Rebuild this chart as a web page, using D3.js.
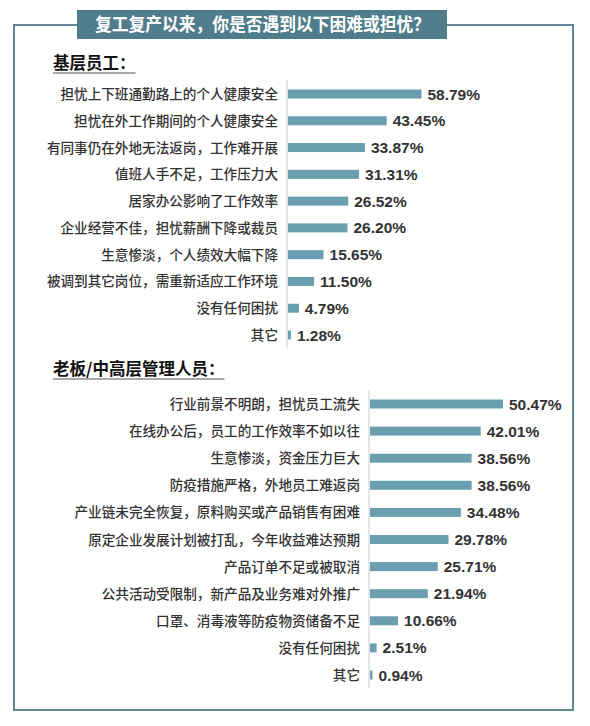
<!DOCTYPE html>
<html><head><meta charset="utf-8">
<script src="https://cdn.jsdelivr.net/npm/d3@7"></script>
<style>body{margin:0;background:#fff}</style>
</head><body>
<svg id="chart" width="590" height="726"></svg>
<script>
// 基层员工
var staffLabels = ['担忧上下班通勤路上的个人健康安全','担忧在外工作期间的个人健康安全','有同事仍在外地无法返岗，工作难开展','值班人手不足，工作压力大','居家办公影响了工作效率','企业经营不佳，担忧薪酬下降或裁员','生意惨淡，个人绩效大幅下降','被调到其它岗位，需重新适应工作环境','没有任何困扰','其它']
var staffValues = [58.79, 43.45, 33.87, 31.31, 26.52, 26.20, 15.65, 11.50, 4.79, 1.28]
// 老板/中高层管理人员
var bossLabels = ['行业前景不明朗，担忧员工流失','在线办公后，员工的工作效率不如以往','生意惨淡，资金压力巨大','防疫措施严格，外地员工难返岗','产业链未完全恢复，原料购买或产品销售有困难','原定企业发展计划被打乱，今年收益难达预期','产品订单不足或被取消','公共活动受限制，新产品及业务难对外推广','口罩、消毒液等防疫物资储备不足','没有任何困扰','其它']
var bossValues = [50.47, 42.01, 38.56, 38.56, 34.48, 29.78, 25.71, 21.94, 10.66, 2.51, 0.94]

var svg = d3.select('#chart')
var font = '"Noto Sans CJK SC", sans-serif'
var barColor = '#6a9fb0'

svg.append('rect').attr('x',14).attr('y',25).attr('width',559).attr('height',685)
  .attr('fill','none').attr('stroke','#5d8796').attr('stroke-width',2)
svg.append('rect').attr('x',77).attr('y',10).attr('width',370).attr('height',29).attr('fill','#4f7d8b')
svg.append('text').attr('x',95).attr('y',31)
  .attr('textLength',335).attr('lengthAdjust','spacingAndGlyphs')
  .attr('font-family',font).attr('font-weight','bold').attr('font-size',18).attr('fill','#fff')
  .text('复工复产以来，你是否遇到以下困难或担忧？')

function section(title, ty, labels, values, axisX, yFirst, yLast, pxPer){
  var t = svg.append('text').attr('x',53).attr('y',ty).attr('font-family',font)
    .attr('font-weight','bold').attr('font-size',16.5).attr('fill','#111').text(title)
  var w = t.node().getComputedTextLength()
  svg.append('line').attr('x1',53).attr('x2',53+w).attr('y1',ty+4).attr('y2',ty+4)
    .attr('stroke','#555').attr('stroke-width',1.2)
  var y = d3.scalePoint().domain(labels).range([yFirst,yLast])
  var x = d3.scaleLinear().domain([0,1]).range([axisX, axisX+pxPer])
  var bh = 9
  svg.append('line').attr('x1',axisX).attr('x2',axisX).attr('y1',yFirst-14).attr('y2',yLast+13).attr('stroke','#ccc')
  var g = svg.append('g')
  g.selectAll('rect').data(values).enter().append('rect')
    .attr('x',axisX+1).attr('y',function(d,i){return y(labels[i])-bh/2})
    .attr('width',function(d){return x(d)-axisX}).attr('height',bh)
    .attr('fill',barColor)
  g.selectAll('.lab').data(labels).enter().append('text')
    .attr('x',axisX-9).attr('y',function(d){return y(d)+5})
    .attr('text-anchor','end').attr('font-family',font).attr('font-size',13.6)
    .attr('font-weight',500).attr('fill','#333')
    .text(function(d){return d})
  g.selectAll('.val').data(values).enter().append('text')
    .attr('x',function(d){return x(d)+7}).attr('y',function(d,i){return y(labels[i])+5.5})
    .attr('font-family','"Liberation Sans", Arial, sans-serif').attr('font-weight','bold')
    .attr('font-size',15.5).attr('fill','#333')
    .text(function(d){return d.toFixed(2)+'%'})
}
section('基层员工：', 69, staffLabels, staffValues, 287, 94, 335, 2.27)
section('老板/中高层管理人员：', 375, bossLabels, bossValues, 369, 404, 675, 2.635)
</script>
</body></html>
